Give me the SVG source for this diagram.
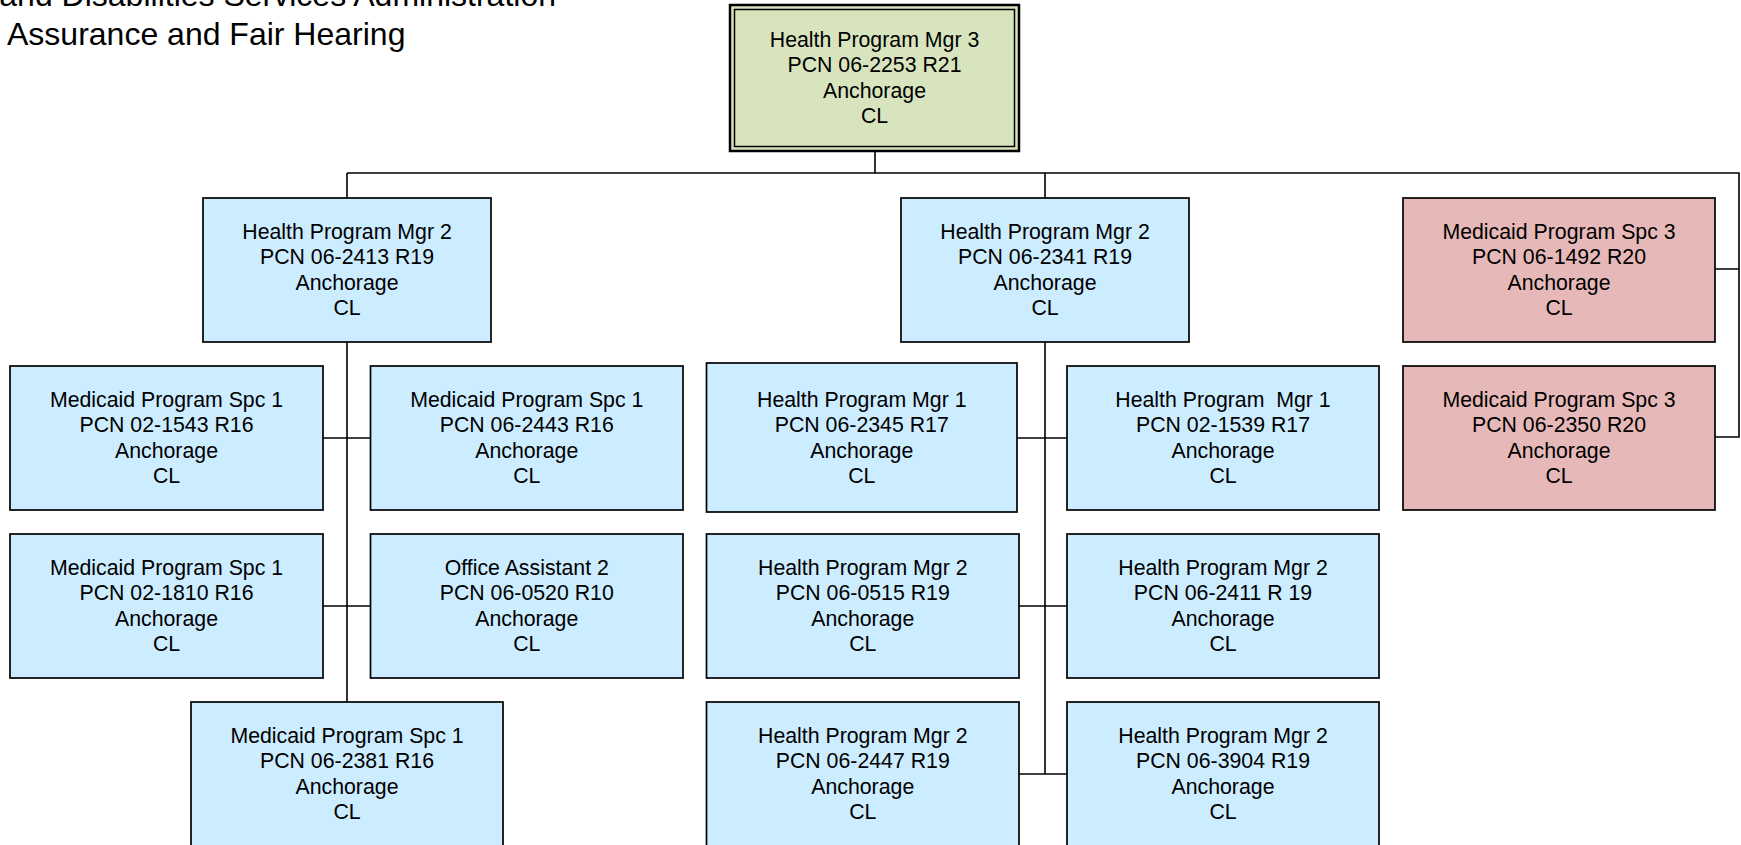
<svg xmlns="http://www.w3.org/2000/svg" width="1741" height="845" viewBox="0 0 1741 845">
<style>
.box{stroke:#000;stroke-width:1.7}
.blue{fill:#CCECFF}
.red{fill:#E6B9B8}
.green{fill:#D7E4BD}
text{font-family:"Liberation Sans",Arial,sans-serif;fill:#000}
.lbl{font-size:21.3px;text-anchor:middle}
.title{font-size:32px}
.conn{fill:none;stroke:#000;stroke-width:1.6}
</style>
<rect x="0" y="0" width="1741" height="845" fill="#fff"/>
<text class="title" x="556" y="6" text-anchor="end">and Disabilities Services Administration</text>
<text class="title" x="7" y="45">Assurance and Fair Hearing</text>
<g id="connectors">
<path class="conn" d="M347,173 H1739 V437 H1715 M1715,269 H1739 M875,151 V173 M347,173 V198 M347,342 V702 M323,438 H370.5 M323,606 H370.5 M1045,173 V198 M1045,342 V774 M1017,438 H1067 M1019,606 H1067 M1019,774 H1067"/>
</g>
<g id="n-top">
<rect class="green" x="730" y="5" width="289" height="146" stroke="#000" stroke-width="2.5"/>
<rect fill="none" x="734.5" y="9.5" width="280" height="137" stroke="#000" stroke-width="1.5"/>
<text class="lbl" x="874.5" y="46.5">Health Program Mgr 3</text>
<text class="lbl" x="874.5" y="72">PCN 06-2253 R21</text>
<text class="lbl" x="874.5" y="97.5">Anchorage</text>
<text class="lbl" x="874.5" y="123">CL</text>
</g>
<g id="n-l-hpm2">
<rect class="box blue" x="203" y="198" width="288" height="144"/>
<text class="lbl" x="347" y="238.5">Health Program Mgr 2</text>
<text class="lbl" x="347" y="264">PCN 06-2413 R19</text>
<text class="lbl" x="347" y="289.5">Anchorage</text>
<text class="lbl" x="347" y="315">CL</text>
</g>
<g id="n-l-r1a">
<rect class="box blue" x="10" y="366" width="313" height="144"/>
<text class="lbl" x="166.5" y="406.5">Medicaid Program Spc 1</text>
<text class="lbl" x="166.5" y="432">PCN 02-1543 R16</text>
<text class="lbl" x="166.5" y="457.5">Anchorage</text>
<text class="lbl" x="166.5" y="483">CL</text>
</g>
<g id="n-l-r1b">
<rect class="box blue" x="370.5" y="366" width="312.5" height="144"/>
<text class="lbl" x="526.75" y="406.5">Medicaid Program Spc 1</text>
<text class="lbl" x="526.75" y="432">PCN 06-2443 R16</text>
<text class="lbl" x="526.75" y="457.5">Anchorage</text>
<text class="lbl" x="526.75" y="483">CL</text>
</g>
<g id="n-l-r2a">
<rect class="box blue" x="10" y="534" width="313" height="144"/>
<text class="lbl" x="166.5" y="574.5">Medicaid Program Spc 1</text>
<text class="lbl" x="166.5" y="600">PCN 02-1810 R16</text>
<text class="lbl" x="166.5" y="625.5">Anchorage</text>
<text class="lbl" x="166.5" y="651">CL</text>
</g>
<g id="n-l-r2b">
<rect class="box blue" x="370.5" y="534" width="312.5" height="144"/>
<text class="lbl" x="526.75" y="574.5">Office Assistant 2</text>
<text class="lbl" x="526.75" y="600">PCN 06-0520 R10</text>
<text class="lbl" x="526.75" y="625.5">Anchorage</text>
<text class="lbl" x="526.75" y="651">CL</text>
</g>
<g id="n-l-r3">
<rect class="box blue" x="191" y="702" width="312" height="144"/>
<text class="lbl" x="347" y="742.5">Medicaid Program Spc 1</text>
<text class="lbl" x="347" y="768">PCN 06-2381 R16</text>
<text class="lbl" x="347" y="793.5">Anchorage</text>
<text class="lbl" x="347" y="819">CL</text>
</g>
<g id="n-m-hpm2">
<rect class="box blue" x="901" y="198" width="288" height="144"/>
<text class="lbl" x="1045" y="238.5">Health Program Mgr 2</text>
<text class="lbl" x="1045" y="264">PCN 06-2341 R19</text>
<text class="lbl" x="1045" y="289.5">Anchorage</text>
<text class="lbl" x="1045" y="315">CL</text>
</g>
<g id="n-m-r1a">
<rect class="box blue" x="706.5" y="363" width="310.5" height="149"/>
<text class="lbl" x="861.75" y="406.5">Health Program Mgr 1</text>
<text class="lbl" x="861.75" y="432">PCN 06-2345 R17</text>
<text class="lbl" x="861.75" y="457.5">Anchorage</text>
<text class="lbl" x="861.75" y="483">CL</text>
</g>
<g id="n-m-r1b">
<rect class="box blue" x="1067" y="366" width="312" height="144"/>
<text class="lbl" x="1223" y="406.5" style="white-space:pre">Health Program  Mgr 1</text>
<text class="lbl" x="1223" y="432">PCN 02-1539 R17</text>
<text class="lbl" x="1223" y="457.5">Anchorage</text>
<text class="lbl" x="1223" y="483">CL</text>
</g>
<g id="n-m-r2a">
<rect class="box blue" x="706.5" y="534" width="312.5" height="144"/>
<text class="lbl" x="862.75" y="574.5">Health Program Mgr 2</text>
<text class="lbl" x="862.75" y="600">PCN 06-0515 R19</text>
<text class="lbl" x="862.75" y="625.5">Anchorage</text>
<text class="lbl" x="862.75" y="651">CL</text>
</g>
<g id="n-m-r2b">
<rect class="box blue" x="1067" y="534" width="312" height="144"/>
<text class="lbl" x="1223" y="574.5">Health Program Mgr 2</text>
<text class="lbl" x="1223" y="600">PCN 06-2411 R 19</text>
<text class="lbl" x="1223" y="625.5">Anchorage</text>
<text class="lbl" x="1223" y="651">CL</text>
</g>
<g id="n-m-r3a">
<rect class="box blue" x="706.5" y="702" width="312.5" height="144"/>
<text class="lbl" x="862.75" y="742.5">Health Program Mgr 2</text>
<text class="lbl" x="862.75" y="768">PCN 06-2447 R19</text>
<text class="lbl" x="862.75" y="793.5">Anchorage</text>
<text class="lbl" x="862.75" y="819">CL</text>
</g>
<g id="n-m-r3b">
<rect class="box blue" x="1067" y="702" width="312" height="144"/>
<text class="lbl" x="1223" y="742.5">Health Program Mgr 2</text>
<text class="lbl" x="1223" y="768">PCN 06-3904 R19</text>
<text class="lbl" x="1223" y="793.5">Anchorage</text>
<text class="lbl" x="1223" y="819">CL</text>
</g>
<g id="n-r1">
<rect class="box red" x="1403" y="198" width="312" height="144"/>
<text class="lbl" x="1559" y="238.5">Medicaid Program Spc 3</text>
<text class="lbl" x="1559" y="264">PCN 06-1492 R20</text>
<text class="lbl" x="1559" y="289.5">Anchorage</text>
<text class="lbl" x="1559" y="315">CL</text>
</g>
<g id="n-r2">
<rect class="box red" x="1403" y="366" width="312" height="144"/>
<text class="lbl" x="1559" y="406.5">Medicaid Program Spc 3</text>
<text class="lbl" x="1559" y="432">PCN 06-2350 R20</text>
<text class="lbl" x="1559" y="457.5">Anchorage</text>
<text class="lbl" x="1559" y="483">CL</text>
</g>
</svg>
